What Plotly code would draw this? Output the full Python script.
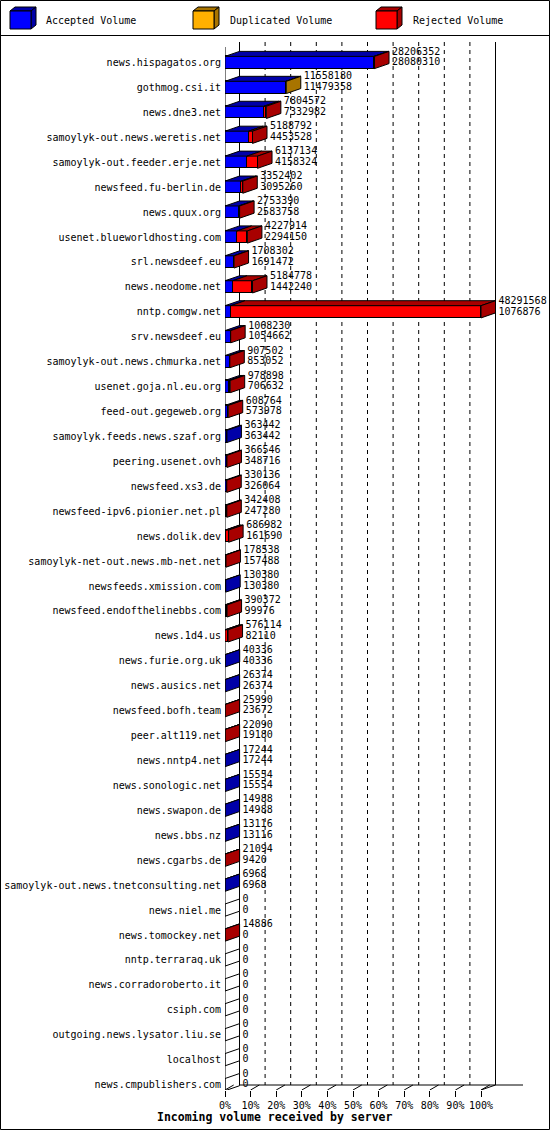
import plotly.graph_objects as go

servers = [
    "news.hispagatos.org", "gothmog.csi.it", "news.dne3.net", "samoylyk-out.news.weretis.net",
    "samoylyk-out.feeder.erje.net", "newsfeed.fu-berlin.de", "news.quux.org",
    "usenet.blueworldhosting.com", "srl.newsdeef.eu", "news.neodome.net", "nntp.comgw.net",
    "srv.newsdeef.eu", "samoylyk-out.news.chmurka.net", "usenet.goja.nl.eu.org",
    "feed-out.gegeweb.org", "samoylyk.feeds.news.szaf.org", "peering.usenet.ovh",
    "newsfeed.xs3.de", "newsfeed-ipv6.pionier.net.pl", "news.dolik.dev",
    "samoylyk-net-out.news.mb-net.net", "newsfeeds.xmission.com", "newsfeed.endofthelinebbs.com",
    "news.1d4.us", "news.furie.org.uk", "news.ausics.net", "newsfeed.bofh.team",
    "peer.alt119.net", "news.nntp4.net", "news.sonologic.net", "news.swapon.de", "news.bbs.nz",
    "news.cgarbs.de", "samoylyk-out.news.tnetconsulting.net", "news.niel.me",
    "news.tomockey.net", "nntp.terraraq.uk", "news.corradoroberto.it", "csiph.com",
    "outgoing.news.lysator.liu.se", "localhost", "news.cmpublishers.com",
]
total_volume = [
    28206352, 11558180, 7804572, 5188792, 6137134, 3352402, 2753390, 4227914, 1708302,
    5184778, 48291568, 1068230, 907502, 978898, 608764, 363442, 366546, 330136, 342408,
    686982, 178538, 130380, 390372, 576114, 40336, 26374, 25990, 22090, 17244, 15554,
    14988, 13116, 21094, 6968, 0, 14886, 0, 0, 0, 0, 0, 0,
]
accepted_volume = [
    28080310, 11479358, 7332982, 4453528, 4158324, 3095260, 2583758, 2294150, 1691472,
    1442240, 1076876, 1054662, 853052, 706632, 573978, 363442, 348716, 326064, 247280,
    161690, 157488, 130380, 99976, 82110, 40336, 26374, 23672, 19180, 17244, 15554,
    14988, 13116, 9420, 6968, 0, 0, 0, 0, 0, 0, 0, 0,
]
# servers whose extra volume is duplicated rather than rejected
duplicated_servers = ["gothmog.csi.it"]
tick_values = [0, 10, 20, 30, 40, 50, 60, 70, 80, 90, 100]
tick_labels = ["0%", "10%", "20%", "30%", "40%", "50%", "60%", "70%", "80%", "90%", "100%"]

duplicated_volume = [(t - a) if s in duplicated_servers else 0
                     for s, t, a in zip(servers, total_volume, accepted_volume)]
rejected_volume = [0 if s in duplicated_servers else (t - a)
                   for s, t, a in zip(servers, total_volume, accepted_volume)]

FONT = "DejaVu Sans Mono"
W, H = 550, 1130
L, R, T, B = 225, 0, 40, 40
PX_PER_PCT = 2.56
ROW0, PITCH = 62.5, 24.93
XMAX = (W - L - R) / PX_PER_PCT
DX = 14.5 / PX_PER_PCT
DY = 5.0 / PITCH
BW = 0.49

vmax = max(total_volume)
pct = lambda v: v / vmax * 100.0
n = len(servers)
rows = list(range(n))

COL = {
    "acc": ("#0000FF", "#0000A8"),
    "dup": ("#FFB000", "#A87400"),
    "rej": ("#FF0000", "#A80000"),
}

def ypix(yp):
    return (yp - ROW0) / PITCH

def px(x):
    return (x - L) / (W - L - R)

def py(y):
    return (H - B - y) / (H - T - B)

fig = go.Figure()

# front faces
for key, name, vals in [("acc", "Accepted Volume", accepted_volume),
                        ("dup", "Duplicated Volume", duplicated_volume),
                        ("rej", "Rejected Volume", rejected_volume)]:
    fig.add_trace(go.Bar(
        y=rows, x=[pct(v) if v > 0 else None for v in vals], orientation="h",
        width=BW, marker=dict(color=COL[key][0], line=dict(color="black", width=1)),
        name=name, showlegend=False, hoverinfo="skip",
    ))

# top and side faces
tops = {k: ([], []) for k in COL}
sides = {k: ([], []) for k in list(COL) + ["none"]}
for i in rows:
    yt, yb = i - BW / 2, i + BW / 2
    x0 = 0.0
    last = "none"
    for key, vals in [("acc", accepted_volume), ("dup", duplicated_volume), ("rej", rejected_volume)]:
        v = vals[i]
        if v > 0:
            x1 = x0 + pct(v)
            xs, ys = tops[key]
            xs += [x0, x1, x1 + DX, x0 + DX, x0, None]
            ys += [yt, yt, yt - DY, yt - DY, yt, None]
            x0 = x1
            last = key
    xs, ys = sides[last]
    xs += [x0, x0 + DX, x0 + DX, x0, x0, None]
    ys += [yt, yt - DY, yb - DY, yb, yt, None]

for key, (xs, ys) in tops.items():
    if xs:
        fig.add_trace(go.Scatter(x=xs, y=ys, mode="lines", fill="toself",
                                 fillcolor=COL[key][1], line=dict(color="black", width=1),
                                 showlegend=False, hoverinfo="skip"))
for key, (xs, ys) in sides.items():
    if xs:
        fc = "white" if key == "none" else COL[key][1]
        fig.add_trace(go.Scatter(x=xs, y=ys, mode="lines", fill="toself",
                                 fillcolor=fc, line=dict(color="black", width=1),
                                 showlegend=False, hoverinfo="skip"))

# value labels
lab_x = [pct(t) + DX + 3.0 / PX_PER_PCT for t in total_volume]
fig.add_trace(go.Scatter(x=lab_x, y=[i - 0.42 for i in rows], mode="text",
                         text=[str(t) for t in total_volume], textposition="middle right",
                         textfont=dict(family=FONT, size=10, color="black"),
                         cliponaxis=False, showlegend=False, hoverinfo="skip"))
fig.add_trace(go.Scatter(x=lab_x, y=[i + 0.01 for i in rows], mode="text",
                         text=[str(a) for a in accepted_volume], textposition="middle right",
                         textfont=dict(family=FONT, size=10, color="black"),
                         cliponaxis=False, showlegend=False, hoverinfo="skip"))

# floor tick diagonals
fl_front = ypix(1090)
fl_back = ypix(1085)
tx, ty = [], []
for t in tick_values:
    tx += [t, t + DX * 0.6, None]
    ty += [fl_front, fl_back, None]
fig.add_trace(go.Scatter(x=tx, y=ty, mode="lines", line=dict(color="black", width=1),
                         cliponaxis=False, showlegend=False, hoverinfo="skip"))

shapes = []
back_top = ypix(42)
front_top = ypix(47)
# back wall grid
for t in tick_values:
    solid = t in (0, 100)
    shapes.append(dict(type="line", xref="x", yref="y", x0=t + DX, x1=t + DX,
                       y0=back_top, y1=fl_back, layer="below",
                       line=dict(color="black", width=1, dash="solid" if solid else "4px,4px")))
# floor back line
shapes.append(dict(type="line", xref="x", yref="y", x0=DX, x1=(523 - L) / PX_PER_PCT,
                   y0=fl_back, y1=fl_back, layer="below", line=dict(color="black", width=1)))
# floor side edges
for t in (0, 100):
    shapes.append(dict(type="line", xref="x", yref="y", x0=t, x1=t + DX,
                       y0=fl_front, y1=fl_back, layer="below", line=dict(color="black", width=1)))
# front-left wall edge
shapes.append(dict(type="line", xref="x", yref="y", x0=0, x1=0, y0=front_top, y1=fl_front,
                   layer="above", line=dict(color="black", width=1)))

# outer border and legend separator
shapes.append(dict(type="rect", xref="paper", yref="paper", x0=px(0.5), x1=px(549.5),
                   y0=py(1129.5), y1=py(0.5), line=dict(color="black", width=1)))
shapes.append(dict(type="line", xref="paper", yref="paper", x0=px(0), x1=px(550),
                   y0=py(35.5), y1=py(35.5), line=dict(color="black", width=1)))

annotations = []
legend_items = [("Accepted Volume", "acc", 10, 44), ("Duplicated Volume", "dup", 193, 228),
                ("Rejected Volume", "rej", 376, 411)]
for text, key, cx, tx0 in legend_items:
    f, d = COL[key]
    x0, x1, yt, yb = cx, cx + 21, 11, 29
    shapes.append(dict(type="path", xref="paper", yref="paper",
                       path=f"M{px(x0)},{py(yt)} L{px(x1)},{py(yt)} L{px(x1+5)},{py(yt-4)} L{px(x0+5)},{py(yt-4)} Z",
                       fillcolor=d, line=dict(color="black", width=1)))
    shapes.append(dict(type="path", xref="paper", yref="paper",
                       path=f"M{px(x1)},{py(yt)} L{px(x1+5)},{py(yt-4)} L{px(x1+5)},{py(yb-4)} L{px(x1)},{py(yb)} Z",
                       fillcolor=d, line=dict(color="black", width=1)))
    shapes.append(dict(type="rect", xref="paper", yref="paper",
                       x0=px(x0), x1=px(x1), y0=py(yb), y1=py(yt),
                       fillcolor=f, line=dict(color="black", width=1)))
    annotations.append(dict(xref="paper", yref="paper", x=px(tx0), y=py(20.5), text=text,
                            showarrow=False, xanchor="left", yanchor="middle",
                            font=dict(family=FONT, size=10, color="black")))

annotations.append(dict(xref="paper", yref="paper", x=px(274), y=py(1117),
                        text="<b>Incoming volume received by server</b>", showarrow=False,
                        xanchor="center", yanchor="middle",
                        font=dict(family=FONT, size=11.5, color="black")))

fig.update_layout(
    width=W, height=H, margin=dict(l=L, r=R, t=T, b=B, pad=0, autoexpand=False),
    paper_bgcolor="white", plot_bgcolor="white", barmode="stack", bargap=0,
    showlegend=False, shapes=shapes, annotations=annotations,
    font=dict(family=FONT, size=10, color="black"),
    xaxis=dict(range=[0, XMAX], tickvals=tick_values, ticktext=tick_labels, showgrid=False,
               zeroline=False, showline=False, ticks="outside", ticklen=6, tickcolor="black",
               tickwidth=1, tickfont=dict(family=FONT, size=10, color="black"),
               fixedrange=True, automargin=False),
    yaxis=dict(range=[ypix(H - B), ypix(T)], tickvals=rows, ticktext=servers, showgrid=False,
               zeroline=False, showline=False, ticks="", ticklabelstandoff=3,
               tickfont=dict(family=FONT, size=10, color="black"),
               fixedrange=True, automargin=False),
)

fig.write_html("out.html", config={"displayModeBar": False},
               post_script="document.body.style.margin='0';")
